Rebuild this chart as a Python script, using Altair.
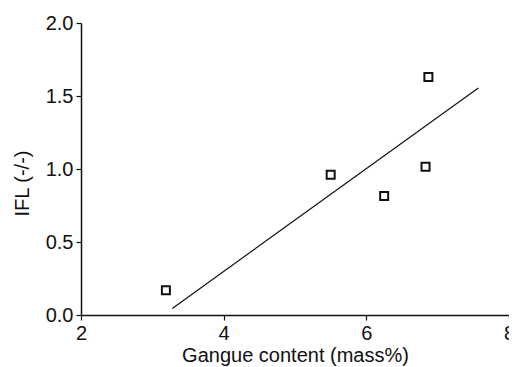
import altair as alt
import pandas as pd

gangue = [3.19, 5.50, 6.25, 6.83, 6.87]
ifl = [0.17, 0.96, 0.815, 1.015, 1.63]

fit_x = [3.28, 7.57]
fit_y = [0.045, 1.555]

pts = pd.DataFrame({"x": gangue, "y": ifl})
fit = pd.DataFrame({"x": fit_x, "y": fit_y})

FONT = "Liberation Sans"

xscale = alt.Scale(domain=[2, 8], nice=False, zero=False)
yscale = alt.Scale(domain=[0, 2], nice=False)

xaxis = alt.Axis(values=[2, 4, 6, 8], format="d", title="Gangue content (mass%)",
                 grid=False, tickSize=5, labelPadding=3, titlePadding=2)
yaxis = alt.Axis(values=[0, 0.5, 1.0, 1.5, 2.0], format=".1f", title="IFL (-/-)",
                 grid=False, tickSize=5, labelPadding=3,
                 titleX=-59, titleY=160, titleAngle=270, titleBaseline="middle",
                 titleAlign="center")

line = alt.Chart(fit).mark_line(color="#111111", strokeWidth=1.2).encode(
    x=alt.X("x:Q", scale=xscale, axis=xaxis),
    y=alt.Y("y:Q", scale=yscale, axis=yaxis),
)

points = alt.Chart(pts).mark_point(shape="square", filled=False, color="#111111",
                                   size=64, strokeWidth=2, opacity=1).encode(
    x=alt.X("x:Q", scale=xscale),
    y=alt.Y("y:Q", scale=yscale),
)

chart = alt.layer(line, points).properties(
    width=428, height=292,
    autosize=alt.AutoSizeParams(type="none"),
    padding={"left": 81, "top": 23, "right": 0, "bottom": 52},
    background="white",
).configure_view(stroke=None).configure_axis(
    domainColor="#111111", domainWidth=1.5, tickColor="#111111", tickWidth=1.2,
    labelFont=FONT, labelFontSize=20, labelColor="#111111",
    titleFont=FONT, titleFontSize=20, titleFontWeight="normal", titleColor="#111111",
    labelOverlap=False, labelFlush=False,
)

chart.save("out.html", embed_options={"renderer": "svg", "actions": False})
